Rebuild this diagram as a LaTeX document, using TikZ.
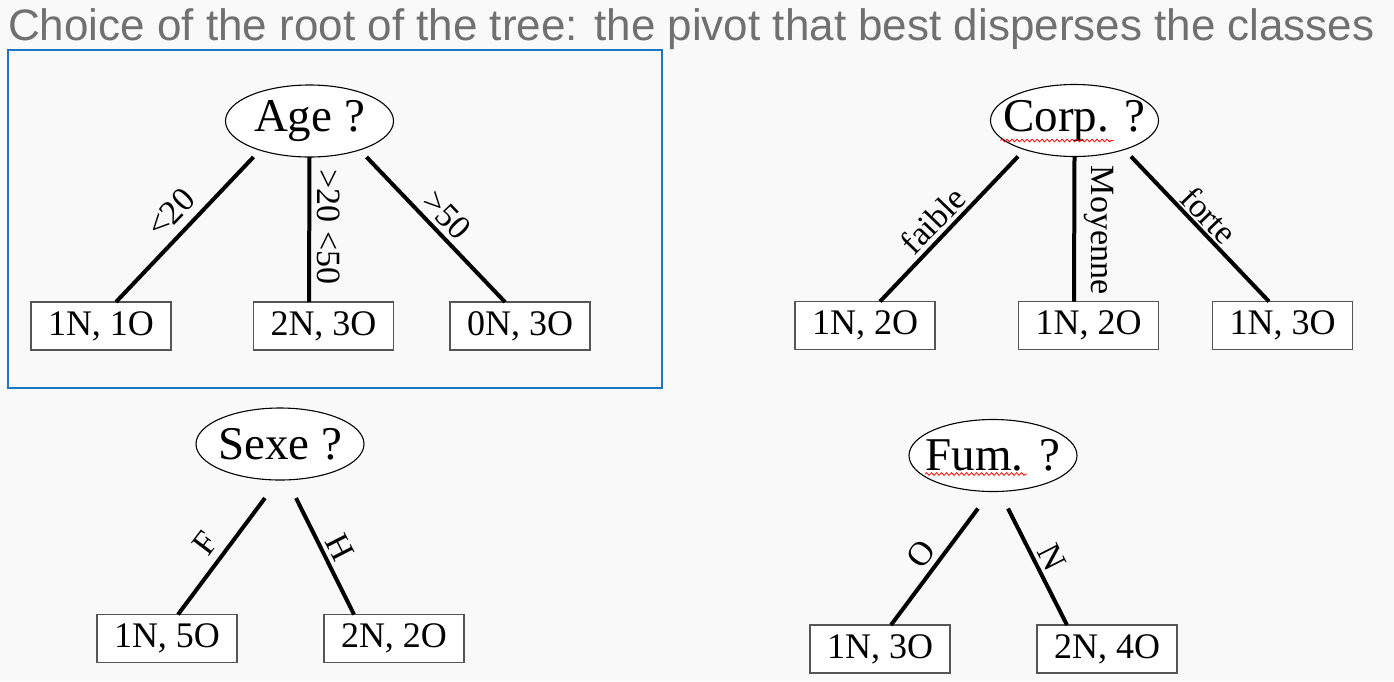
\documentclass[tikz,border=0pt]{standalone}
\usepackage{fontspec}
\setmainfont{Liberation Serif}
\newfontfamily\titlefont{Liberation Sans}
\usetikzlibrary{shapes.geometric,decorations.pathmorphing}
\definecolor{slidebg}{RGB}{249,249,249}
\definecolor{titlegray}{RGB}{112,112,112}
\definecolor{frameblue}{RGB}{30,117,196}
\definecolor{boxgray}{RGB}{85,85,85}
\tikzset{
  test/.style={ellipse,draw,fill=white,line width=1.1pt,minimum width=168pt,minimum height=72pt,
    inner xsep=-14pt,inner ysep=0pt,outer sep=0pt,font=\fontsize{47}{47}\selectfont},
  leaf/.style={rectangle,draw=boxgray,fill=white,line width=1.3pt,minimum width=140pt,minimum height=48pt,
    inner sep=0pt,outer sep=0pt,font=\fontsize{36}{36}\selectfont},
  cond/.style={inner sep=0pt,font=\fontsize{34}{34}\selectfont},
  branch/.style={line width=4pt},
  spell/.style={red,line width=0.8pt,decorate,decoration={snake,amplitude=1.3pt,segment length=5pt}}
}

\begin{document}
\begin{tikzpicture}[x=1pt,y=-1pt]
   \fill[slidebg] (0,0) rectangle (1394,681);
   \useasboundingbox (0,0) rectangle (1394,681);
   \node[anchor=base west,inner sep=0pt,text=titlegray,font=\titlefont\fontsize{44}{44}\selectfont] (title) at (8,40)
     {Choice of the root of the tree: the pivot that best disperses the classes};
   \draw[frameblue,line width=2pt] (8,50) rectangle (662,388);

   \node[test] (age) at (309.5,121) {Age ?};
   \node[leaf] (age1) at (101,326) {1N, 1O};
   \node[leaf] (age2) at (323.5,326) {2N, 3O};
   \node[leaf] (age3) at (520,326) {0N, 3O};
   \node[cond,rotate=46] (lt20) at (171,213) {<20};
   \node[cond,rotate=-90] (mid2050) at (329,227) {>20 <50};
   \node[cond,rotate=-46] (gt50) at (447,215) {>50};

   \node[test] (corp) at (1074.5,120.5) {Corp. ?};
   \node[leaf] (corp1) at (865,325.5) {1N, 2O};
   \node[leaf] (corp2) at (1088.5,325.5) {1N, 2O};
   \node[leaf] (corp3) at (1282.5,325.5) {1N, 3O};
   \node[cond,rotate=46] (faible) at (933,220) {faible};
   \node[cond,rotate=-90] (moyenne) at (1099,230) {Moyenne};
   \node[cond,rotate=-46] (forte) at (1209,215) {forte};

   \node[test] (sexe) at (280,444) {Sexe ?};
   \node[leaf] (sexe1) at (167,638.5) {1N, 5O};
   \node[leaf] (sexe2) at (394,638.5) {2N, 2O};
   \node[cond,rotate=53] (femme) at (205,543) {F};
   \node[cond,rotate=-63] (homme) at (340,547) {H};

   \node[test] (fum) at (993,455.5) {Fum. ?};
   \node[leaf] (fum1) at (880,649) {1N, 3O};
   \node[leaf] (fum2) at (1107,649) {2N, 4O};
   \node[cond,rotate=53] (oui) at (921,554) {O};
   \node[cond,rotate=-63] (non) at (1052,557) {N};

   \path ([xshift=-56pt]age.south) edge[branch] ([xshift=15pt]age1.north);
   \path (age.south) edge[branch] ([xshift=-14.5pt]age2.north);
   \path ([xshift=57pt]age.south) edge[branch] ([xshift=-15pt]age3.north);

   \path ([xshift=-56.5pt]corp.south) edge[branch] ([xshift=15pt]corp1.north);
   \path (corp.south) edge[branch] ([xshift=-14.5pt]corp2.north);
   \path ([xshift=56.5pt]corp.south) edge[branch] ([xshift=-13.5pt]corp3.north);

   \path ([xshift=-15pt,yshift=-18pt]sexe.south) edge[branch] ([xshift=11pt]sexe1.north);
   \path ([xshift=16pt,yshift=-18pt]sexe.south) edge[branch] ([xshift=-40pt]sexe2.north);

   \path ([xshift=-15pt,yshift=-17pt]fum.south) edge[branch] ([xshift=11pt]fum1.north);
   \path ([xshift=15pt,yshift=-17pt]fum.south) edge[branch] ([xshift=-40pt]fum2.north);

   \draw[spell] ([xshift=-74pt,yshift=-20pt]corp.center) -- ([xshift=39pt,yshift=-20pt]corp.center);
   \draw[spell] ([xshift=-68pt,yshift=-18.5pt]fum.center) -- ([xshift=34pt,yshift=-18.5pt]fum.center);
\end{tikzpicture}
\end{document}
